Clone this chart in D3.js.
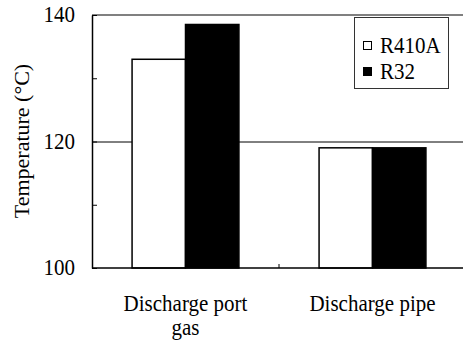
<!DOCTYPE html>
<html>
<head>
<meta charset="utf-8">
<script src="https://cdn.jsdelivr.net/npm/d3@7"></script>
<style>
  body { margin: 0; background: #fff; }
</style>
</head>
<body>
<div id="box1"></div>
<script>
"use strict";

// data
const categories = ['Discharge port gas', 'Discharge pipe'];
const category_lines = [['Discharge port', 'gas'], ['Discharge pipe']];
const series = ['R410A', 'R32'];
const r410a_values = [133.0, 119.0];
const r32_values = [138.5, 119.0];
const y_ticks = [100, 110, 120, 130, 140];
const y_labels = [100, 120, 140];

const values = { R410A: r410a_values, R32: r32_values };
const fills = { R410A: '#fff', R32: '#000' };

const font = '"Times New Roman", "Liberation Serif", serif';
const width = 463, height = 342;
const plot = { left: 92, top: 15, bottom: 268, right: 466 };
const stretch = 1.1; // text looks slightly taller than wide in the reference

const svg = d3.select('#box1').append('svg')
  .attr('width', width)
  .attr('height', height);

const x0 = d3.scaleBand()
  .domain(categories)
  .range([plot.left, plot.right])
  .padding(0);

const x1 = d3.scaleBand()
  .domain(series)
  .range([0, x0.bandwidth()])
  .paddingInner(0)
  .paddingOuter(0.75);

const y = d3.scaleLinear()
  .domain([100, 140])
  .range([plot.bottom, plot.top]);

// stretched text helper
const add_text = (g, str, x, yy, size, anchor) => g.append('text')
  .attr('transform', `translate(${x},${yy}) scale(1,${stretch})`)
  .attr('font-family', font)
  .attr('font-size', size)
  .attr('fill', '#000')
  .attr('text-anchor', anchor)
  .text(str);

// gridline at 120
svg.append('line')
  .attr('x1', plot.left).attr('x2', width)
  .attr('y1', y(120) + 0.5).attr('y2', y(120) + 0.5)
  .attr('stroke', '#000').attr('stroke-width', 1);

// top border line
svg.append('line')
  .attr('x1', plot.left).attr('x2', width)
  .attr('y1', y(140)).attr('y2', y(140))
  .attr('stroke', '#808080').attr('stroke-width', 2);

// bars
const groups = svg.selectAll('g.grp')
  .data(categories)
  .join('g')
  .attr('class', 'grp')
  .attr('transform', d => `translate(${x0(d)},0)`);

groups.selectAll('rect')
  .data((d, i) => series.map(s => ({ s, v: values[s][i] })))
  .join('rect')
  .attr('x', d => x1(d.s))
  .attr('y', d => y(d.v))
  .attr('width', x1.bandwidth())
  .attr('height', d => y(100) - y(d.v))
  .attr('fill', d => fills[d.s])
  .attr('stroke', '#000')
  .attr('stroke-width', 1.5);

// y axis
const y_axis = d3.axisLeft(y)
  .tickValues(y_ticks)
  .tickSize(-5)
  .tickSizeOuter(0)
  .tickPadding(17)
  .tickFormat(d => '');

const gy = svg.append('g')
  .attr('transform', `translate(${plot.left},0)`)
  .call(y_axis);
gy.select('.domain').attr('stroke', '#000').attr('stroke-width', 1.5);
gy.selectAll('.tick line').attr('stroke', '#000').attr('stroke-width', 1);

y_labels.forEach(v => {
  add_text(svg, v, plot.left - 17, y(v) + 7, 21, 'end');
});

// x axis line and separator tick
svg.append('line')
  .attr('x1', plot.left).attr('x2', width)
  .attr('y1', plot.bottom).attr('y2', plot.bottom)
  .attr('stroke', '#000').attr('stroke-width', 1.5);

svg.append('line')
  .attr('x1', x0(categories[1])).attr('x2', x0(categories[1]))
  .attr('y1', plot.bottom).attr('y2', plot.bottom - 4)
  .attr('stroke', '#000').attr('stroke-width', 1);

// category labels
categories.forEach((c, i) => {
  category_lines[i].forEach((line, j) => {
    add_text(svg, line, x0(c) + x0.bandwidth() / 2, 311 + j * 24, 21, 'middle');
  });
});

// y title
svg.append('text')
  .attr('transform', `translate(29,141) rotate(-90) scale(${stretch},1)`)
  .attr('font-family', font)
  .attr('font-size', 20)
  .attr('fill', '#000')
  .attr('text-anchor', 'middle')
  .text('Temperature (°C)');

// legend
const lg = svg.append('g');
lg.append('rect')
  .attr('x', 354.5).attr('y', 17.5)
  .attr('width', 94).attr('height', 71)
  .attr('fill', '#fff')
  .attr('stroke', '#333').attr('stroke-width', 1);

series.forEach((s, i) => {
  lg.append('rect')
    .attr('x', 363.5).attr('y', 41.5 + i * 26)
    .attr('width', 8).attr('height', 8)
    .attr('fill', fills[s])
    .attr('stroke', '#000').attr('stroke-width', 1);
  add_text(lg, s, 380, 53 + i * 26, 21, 'start');
});
</script>
</body>
</html>
